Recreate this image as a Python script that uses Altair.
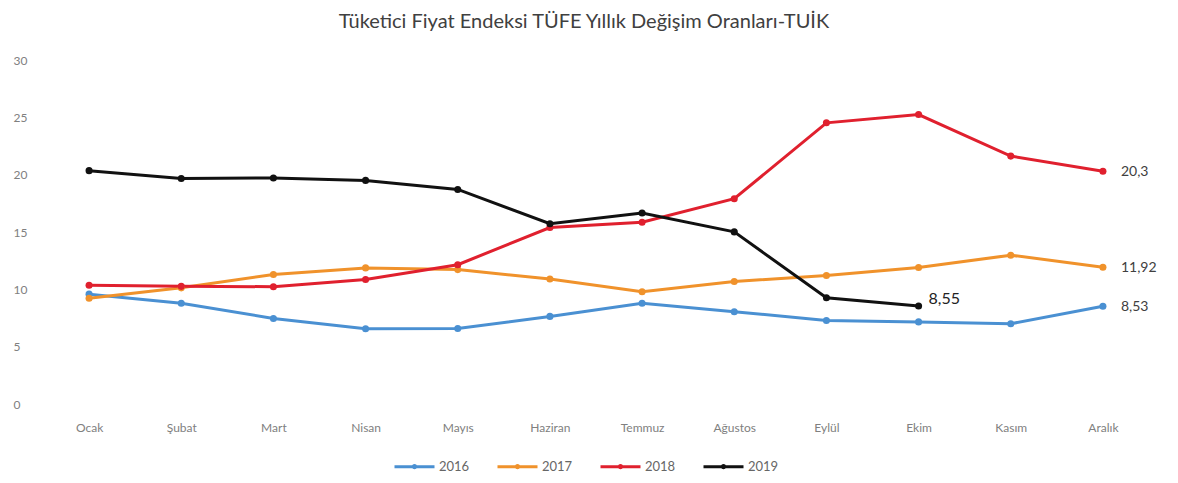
import altair as alt
import pandas as pd

months = ["Ocak", "Şubat", "Mart", "Nisan", "Mayıs", "Haziran",
          "Temmuz", "Ağustos", "Eylül", "Ekim", "Kasım", "Aralık"]
years = ["2016", "2017", "2018", "2019"]
v2016 = [9.58, 8.78, 7.46, 6.57, 6.58, 7.64, 8.79, 8.05, 7.28, 7.16, 7.00, 8.53]
v2017 = [9.22, 10.13, 11.29, 11.87, 11.72, 10.90, 9.79, 10.68, 11.20, 11.90, 12.98, 11.92]
v2018 = [10.35, 10.26, 10.23, 10.85, 12.15, 15.39, 15.85, 17.90, 24.52, 25.24, 21.62, 20.30]
v2019 = [20.35, 19.67, 19.71, 19.50, 18.71, 15.72, 16.65, 15.01, 9.26, 8.55]
colors = ["#4A90D2", "#F0922B", "#E0202E", "#111111"]

label_year = ["2018", "2017", "2016", "2019"]
label_month = ["Aralık", "Aralık", "Aralık", "Ekim"]
label_text = ["20,3", "11,92", "8,53", "8,55"]

rows = []
for y, vals in zip(years, [v2016, v2017, v2018, v2019]):
    for m, v in zip(months, vals):
        rows.append({"Ay": m, "Yıl": y, "Değer": v})
df = pd.DataFrame(rows)

lab_rows = []
for y, m, t in zip(label_year, label_month, label_text):
    val = df[(df["Yıl"] == y) & (df["Ay"] == m)]["Değer"].iloc[0]
    lab_rows.append({"Ay": m, "Yıl": y, "Değer": val, "Etiket": t})
ldf = pd.DataFrame(lab_rows)

FONT = "Lato"
xscale = alt.Scale(type="point", padding=0.5)
x = alt.X("Ay:N", sort=months, title=None, scale=xscale,
          axis=alt.Axis(labelAngle=0, ticks=False, domain=False, grid=False,
                        labelPadding=18, labelFontSize=12, labelColor="#808080",
                        labelFont=FONT))
y = alt.Y("Değer:Q", title=None,
          scale=alt.Scale(domain=[0, 30]),
          axis=alt.Axis(values=[0, 5, 10, 15, 20, 25, 30], ticks=False, domain=False,
                        grid=False, labelPadding=30, labelFontSize=12,
                        labelColor="#808080", labelFont=FONT, labelAlign="left"))
color = alt.Color("Yıl:N", scale=alt.Scale(domain=years, range=colors),
                  legend=alt.Legend(title=None, orient="none", direction="horizontal",
                                    legendX=350, legendY=385,
                                    symbolType="M-1,0L1,0M-0.06,0a0.06,0.06 0 1,0 0.12,0a0.06,0.06 0 1,0 -0.12,0",
                                    symbolSize=1600, symbolStrokeWidth=3,
                                    labelFontSize=13, labelColor="#666666", labelFont=FONT,
                                    columnPadding=21, labelOffset=3))

base = alt.Chart(df)
lines = base.mark_line(strokeWidth=3).encode(x=x, y=y, color=color)
pts = base.mark_circle(size=50, opacity=1).encode(
    x=x, y=y,
    color=alt.Color("Yıl:N", scale=alt.Scale(domain=years, range=colors), legend=None))

labels_small = alt.Chart(ldf[ldf["Yıl"] != "2019"]).mark_text(
    align="left", dx=18, dy=1, fontSize=14, color="#404040", font=FONT
).encode(x=alt.X("Ay:N", sort=months, scale=xscale), y="Değer:Q", text="Etiket:N")
labels_big = alt.Chart(ldf[ldf["Yıl"] == "2019"]).mark_text(
    align="left", dx=10, dy=-7, fontSize=16, color="#222222", font=FONT
).encode(x=alt.X("Ay:N", sort=months, scale=xscale), y="Değer:Q", text="Etiket:N")

chart = alt.layer(lines, pts, labels_small, labels_big).properties(
    width=1106, height=344,
    background="white",
    title=alt.TitleParams("Tüketici Fiyat Endeksi TÜFE Yıllık Değişim Oranları-TUİK",
                          fontSize=20, font=FONT, fontWeight="normal", color="#404040",
                          offset=22, dx=-12),
    padding={"left": 5, "top": 4, "right": 5, "bottom": 5},
).configure_view(strokeWidth=0)

chart.save("out.html", embed_options={"renderer": "svg", "actions": False})
